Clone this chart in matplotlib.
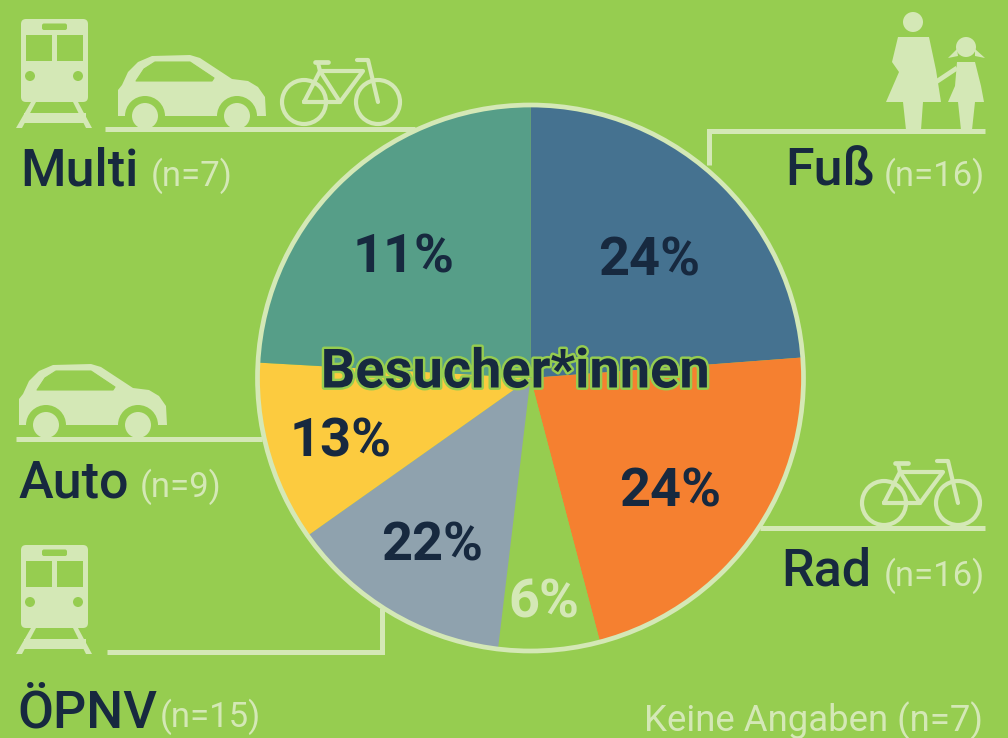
import matplotlib
matplotlib.use("Agg")
import matplotlib.pyplot as plt
import matplotlib.patheffects as pe
from matplotlib.patches import Circle, Polygon, FancyBboxPatch, Rectangle

BG = "#96CD50"
LIGHT = "#D4E8B6"
DARK = "#17293F"

# Data
categories = ["Fuß", "Rad", "Keine Angaben", "ÖPNV", "Auto", "Multi"]
# printed labels
shares = [24, 24, 6, 22, 13, 11]
# slice sizes as drawn in the picture, they differ from the printed labels
drawn_shares = [23.8, 22.1, 6.0, 13.3, 10.7, 24.1]
counts = [16, 16, 7, 15, 9, 7]
slice_colors = ["#457290", "#F58030", BG, "#8FA2AE", "#FCCB3F", "#569E88"]
value_colors = [DARK, DARK, LIGHT, DARK, DARK, DARK]
center_title = "Besucher*innen"

plt.rcParams["font.family"] = ["Roboto", "DejaVu Sans"]

fig = plt.figure(figsize=(10.08, 7.38), dpi=100, facecolor=BG)

# pie in its own axes, placed in pixels
cx, cy, r = 530.5, 378, 273
ax_pie = fig.add_axes([(cx - r - 4) / 1008, 1 - (cy + r + 4) / 738, (2 * r + 8) / 1008, (2 * r + 8) / 738])
ax_pie.pie(drawn_shares, colors=slice_colors, startangle=90, counterclock=False, radius=r,
           wedgeprops={"linewidth": 0})
ax_pie.set_xlim(-r - 4, r + 4)
ax_pie.set_ylim(-r - 4, r + 4)
ax_pie.add_patch(Circle((0, 0), r, fill=False, ec=LIGHT, lw=3.4))
ax_pie.set_axis_off()

# overlay in pixel coordinates, for lines, icons and text
ax = fig.add_axes([0, 0, 1, 1])
ax.set_xlim(0, 1008)
ax.set_ylim(738, 0)
ax.set_axis_off()
ax.patch.set_visible(False)


def rule(xs, ys):
    ax.plot(xs, ys, color=LIGHT, lw=3.6, solid_capstyle="butt", solid_joinstyle="miter", zorder=3)


def stroke(xs, ys, lw=3.0):
    ax.plot(xs, ys, color=LIGHT, lw=lw, solid_capstyle="round", solid_joinstyle="round", zorder=2)


def train(dx, dy):
    ax.add_patch(FancyBboxPatch((26 + dx, 24 + dy), 57, 73, boxstyle="round,pad=5,rounding_size=5",
                                fc=LIGHT, ec="none", zorder=2))
    for wx in (26, 57):
        ax.add_patch(Rectangle((wx + dx, 35 + dy), 26, 26, fc=BG, ec="none", zorder=3))
    ax.add_patch(FancyBboxPatch((44 + dx, 25.5 + dy), 21, 2.5, boxstyle="round,pad=2,rounding_size=2",
                                fc=BG, ec="none", zorder=3))
    for hx in (30, 78):
        ax.add_patch(Circle((hx + dx, 76 + dy), 5, fc=BG, ec="none", zorder=3))
    ax.add_patch(Polygon([(31 + dx, 102 + dy), (36 + dx, 102 + dy), (22 + dx, 128 + dy), (16 + dx, 128 + dy)],
                         fc=LIGHT, ec="none", zorder=2))
    ax.add_patch(Polygon([(73 + dx, 102 + dy), (78 + dx, 102 + dy), (92 + dx, 128 + dy), (86 + dx, 128 + dy)],
                         fc=LIGHT, ec="none", zorder=2))
    ax.add_patch(Rectangle((24 + dx, 113 + dy), 62, 10, fc=LIGHT, ec="none", zorder=2))


def car(dx, dy):
    body = [(118, 116), (118, 90), (122, 85), (128, 72), (138, 62), (152, 56), (190, 55), (200, 58),
            (232, 79), (248, 81), (258, 87), (265, 97), (266, 116)]
    ax.add_patch(Polygon([(x + dx, y + dy) for x, y in body], fc=LIGHT, ec="none", zorder=2))
    glass = [(136, 81), (144, 69), (155, 62), (190, 62), (214, 78), (212, 81)]
    ax.add_patch(Polygon([(x + dx, y + dy) for x, y in glass], fc=BG, ec=BG, lw=0.8, joinstyle="round", zorder=3))
    for wx in (145, 237):
        ax.add_patch(Circle((wx + dx, 116 + dy), 20, fc=BG, ec="none", zorder=2.5))
    ax.add_patch(Rectangle((110 + dx, 116 + dy), 170, 12, fc=BG, ec="none", zorder=2.6))
    for wx in (145, 237):
        ax.add_patch(Circle((wx + dx, 116 + dy), 13, fc=LIGHT, ec="none", zorder=3))


def bike(dx, dy):
    for wx in (304, 378):
        ax.add_patch(Circle((wx + dx, 102 + dy), 22, fill=False, ec=LIGHT, lw=3.0, zorder=2))
    stroke([304 + dx, 320 + dx, 363 + dx, 340 + dx, 304 + dx], [102 + dy, 71 + dy, 71 + dy, 102 + dy, 102 + dy])
    stroke([320 + dx, 340 + dx], [71 + dy, 102 + dy])
    stroke([357 + dx, 368 + dx, 378 + dx], [60 + dy, 60 + dy, 102 + dy])
    stroke([315 + dx, 328 + dx], [62 + dy, 62 + dy], 3.4)
    stroke([318 + dx, 320 + dx], [63 + dy, 71 + dy])


def people():
    ax.add_patch(Circle((913, 22), 10, fc=LIGHT, ec="none", zorder=2))
    ax.add_patch(Polygon([(898, 37), (929, 37), (936, 70), (941, 102), (886, 102), (899, 72), (892, 62)],
                         fc=LIGHT, ec="none", zorder=2))
    ax.add_patch(Polygon([(903, 102), (923, 102), (921, 130), (906, 130)], fc=LIGHT, ec="none", zorder=2))
    ax.plot([936, 957], [82, 68], color=LIGHT, lw=3.4, solid_capstyle="butt", zorder=2)
    ax.add_patch(Circle((966, 47), 10, fc=LIGHT, ec="none", zorder=2))
    ax.add_patch(Polygon([(957, 49), (948, 58), (958, 56)], fc=LIGHT, ec="none", zorder=2))
    ax.add_patch(Polygon([(975, 49), (985, 58), (975, 56)], fc=LIGHT, ec="none", zorder=2))
    ax.add_patch(Polygon([(957, 62), (975, 62), (981, 86), (984, 102), (948, 102), (955, 86)],
                         fc=LIGHT, ec="none", zorder=2))
    ax.add_patch(Polygon([(958, 102), (975, 102), (972, 130), (961, 130)], fc=LIGHT, ec="none", zorder=2))


# connector lines
rule([709, 709, 985], [165, 131, 131])
rule([105, 415], [128.5, 128.5])
rule([16, 262], [439, 439])
rule([107, 382, 382], [652, 652, 608])
rule([760, 985], [528, 528])

train(0, 0)
train(0, 526)
car(0, 0)
car(-99, 309)
bike(0, 0)
bike(580, 401)
people()

# labels: x, baseline y for the name, x for the count
name_pos = {"Fuß": (785, 186, 884), "Rad": (781, 586, 884), "ÖPNV": (17, 727, 160),
            "Auto": (19, 497, 140), "Multi": (20, 186, 151)}
for name, n in zip(categories, counts):
    if name in name_pos:
        x, y, nx = name_pos[name]
        ax.text(x, y, name, color=DARK, fontsize=37.5, fontweight="medium", va="baseline", ha="left", zorder=5)
        ax.text(nx, y, f"(n={n})", color=LIGHT, fontsize=25, fontweight="normal", va="baseline", ha="left", zorder=5)
ax.text(983, 731, f"Keine Angaben (n={counts[2]})", color=LIGHT, fontsize=26.3, fontweight="normal",
        va="baseline", ha="right", zorder=5)

# percent labels
value_pos = [(649, 261), (670, 492), (544, 603), (432, 546), (341, 442), (404, 258)]
for s, col, (x, y) in zip(shares, value_colors, value_pos):
    ax.text(x, y, f"{s}%", color=col, fontsize=39, fontweight="bold", ha="center", va="center", zorder=5)

ax.text(515, 373, center_title, color=DARK, fontsize=39, fontweight="bold", ha="center", va="center", zorder=6,
        path_effects=[pe.withStroke(linewidth=3.5, foreground=BG)])

fig.savefig("out.png", dpi=100, facecolor=BG)
